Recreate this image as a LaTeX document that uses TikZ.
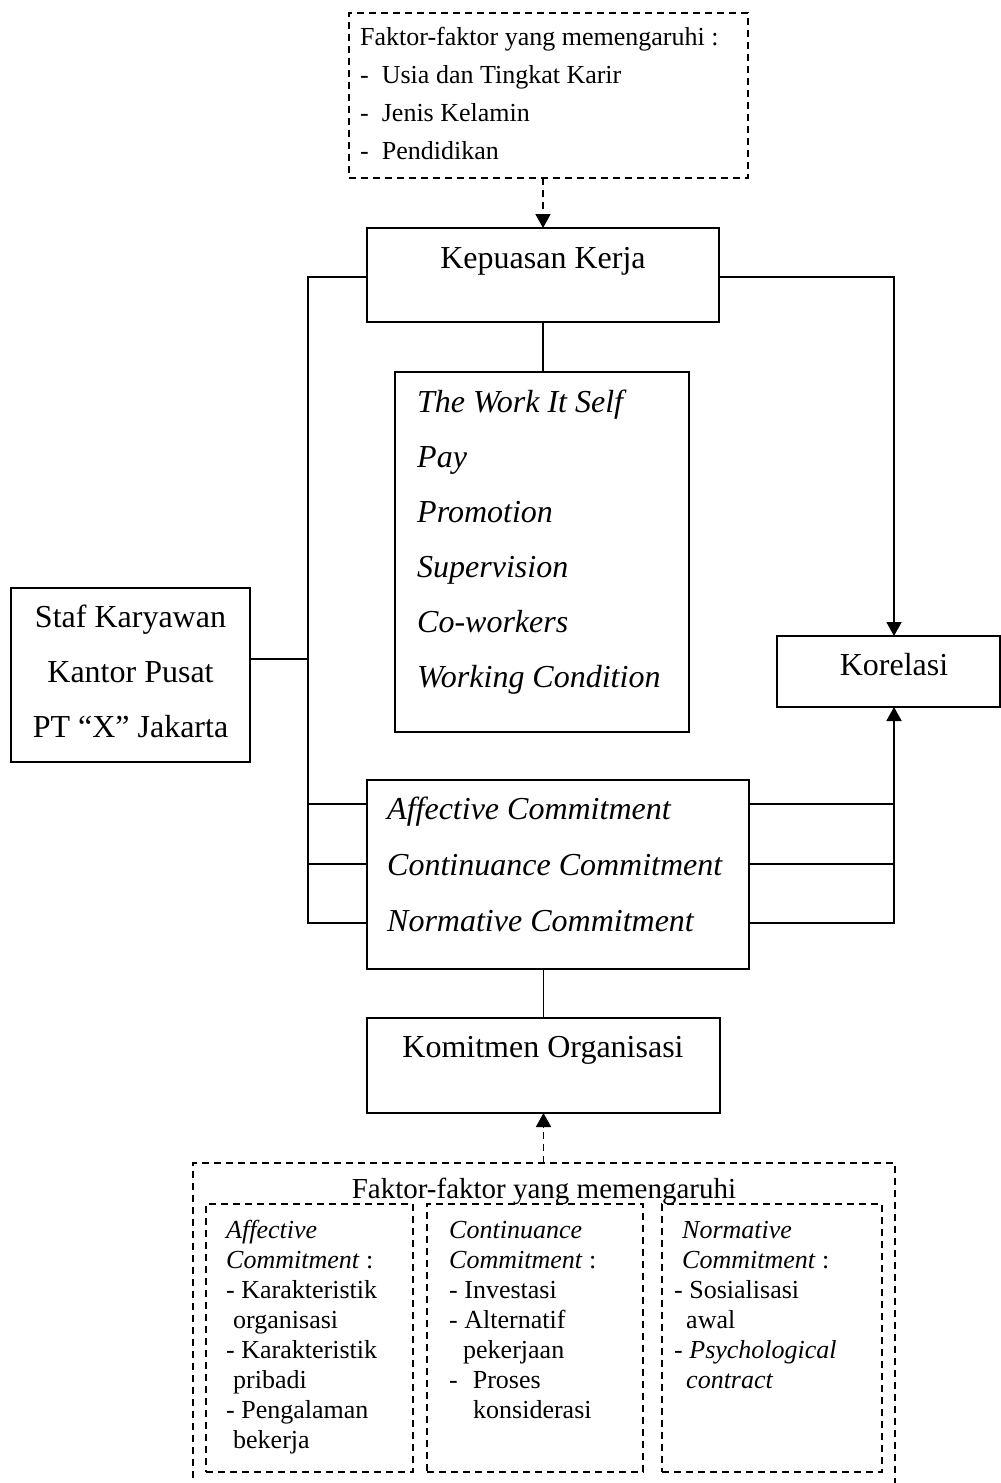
\documentclass[tikz,border=0pt]{standalone}
\usepackage{fontspec}
\setmainfont{Liberation Serif}
\usetikzlibrary{arrows.meta}
\begin{document}
\begin{tikzpicture}[x=1pt,y=-1pt,
  box/.style={draw, line width=1.9pt, rectangle, inner sep=0pt, outer sep=0pt, anchor=north west},
  dbox/.style={box, dash pattern=on 7pt off 5pt},
  big/.style={inner sep=0pt, font=\fontsize{32}{38}\selectfont},
  sm/.style={inner sep=0pt, anchor=base west, font=\fontsize{26}{30}\selectfont},
  conn/.style={line width=1.9pt},
  arr/.style={conn, -{Triangle[length=14pt,width=15pt]}},
  darr/.style={arr, dash pattern=on 7pt off 5pt},
]
\useasboundingbox (0,0) rectangle (1001,1483);

% boxes
\node[dbox, minimum width=399pt, minimum height=165pt] (tb) at (349,13) {};
\node[box, minimum width=352pt, minimum height=94pt] (kk) at (367,228) {};
\node[box, minimum width=294pt, minimum height=360pt] (wk) at (395,372) {};
\node[box, minimum width=239pt, minimum height=174pt] (st) at (11,588) {};
\node[box, minimum width=223pt, minimum height=71pt] (ko) at (777,636) {};
\node[box, minimum width=382pt, minimum height=189pt] (cm) at (367,780) {};
\node[box, minimum width=353pt, minimum height=95pt] (km) at (367,1018) {};
\node[dbox, minimum width=702pt, minimum height=340pt] (ob) at (193,1163) {};
\node[dbox, minimum width=207pt, minimum height=268pt] (i1) at (206,1204) {};
\node[dbox, minimum width=216pt, minimum height=268pt] (i2) at (427,1204) {};
\node[dbox, minimum width=220pt, minimum height=268pt] (i3) at (662,1204) {};

% texts
\node[sm] (t0) at (360,45.5) {Faktor-faktor yang memengaruhi :};
\foreach \t [count=\i] in {Usia dan Tingkat Karir,Jenis Kelamin,Pendidikan}
  \node[sm] (t\i) at (360,45.5+38*\i) {-\hspace{13pt}\t};

\node[big, anchor=base] (tkk) at (543,268) {Kepuasan Kerja};
\foreach \t [count=\i] in {The Work It Self,Pay,Promotion,Supervision,Co-workers,Working Condition}
  \node[big, anchor=base west] (w\i) at (417,357+55*\i) {\textit{\t}};
\foreach \t [count=\i] in {Staf Karyawan,Kantor Pusat,PT “X” Jakarta}
  \node[big, anchor=base] (s\i) at (130.5,572+55*\i) {\t};
\node[big, anchor=base] (tko) at (894,675) {Korelasi};
\foreach \t [count=\i] in {Affective,Continuance,Normative}
  \node[big, anchor=base west] (c\i) at (387,763+56*\i) {\textit{\t\ Commitment}};
\node[big, anchor=base] (tkm) at (543,1057) {Komitmen Organisasi};

\node[inner sep=0pt, anchor=base, font=\fontsize{29}{30}\selectfont] (oh) at (544,1198) {Faktor-faktor yang memengaruhi};

\foreach \dx/\t [count=\i] in {0/{\textit{Affective}},0/{\textit{Commitment} :},0/{- Karakteristik},7/{organisasi},0/{- Karakteristik},7/{pribadi},0/{- Pengalaman},7/{bekerja}}
  \node[sm] (a\i) at (226+\dx,1208+30*\i) {\t};
\foreach \dx/\t [count=\i] in {0/{\textit{Continuance}},0/{\textit{Commitment} :},0/{- Investasi},0/{- Alternatif},14/{pekerjaan},0/{-\hspace{15pt}Proses},24/{konsiderasi}}
  \node[sm] (b\i) at (449+\dx,1208+30*\i) {\t};
\foreach \dx/\t [count=\i] in {8/{\textit{Normative}},8/{\textit{Commitment} :},0/{- Sosialisasi},12/{awal},0/{- \textit{Psychological}},12/{\textit{contract}}}
  \node[sm] (n\i) at (674+\dx,1208+30*\i) {\t};

% connectors
\coordinate (lt) at (308,277);
\coordinate (lj) at (308,659);
\coordinate (la) at (308,804);
\coordinate (lc) at (308,864);
\coordinate (lb) at (308,923);
\coordinate (rt) at (894,277);
\coordinate (ra) at (894,804);
\coordinate (rc) at (894,864);
\coordinate (rb) at (894,923);

\draw[conn] (kk.west |- lt) -- (lt) -- (lb) -- (cm.west |- lb);
\draw[conn] (st.east |- lj) -- (lj);
\draw[conn] (la) -- (cm.west |- la);
\draw[conn] (lc) -- (cm.west |- lc);
\draw[arr] (kk.east |- rt) -- (rt) -- (ko.north -| rt);
\draw[arr] (cm.east |- rb) -- (rb) -- (ko.south -| rb);
\draw[conn] (cm.east |- ra) -- (ra);
\draw[conn] (cm.east |- rc) -- (rc);
\draw[conn] (kk.south) -- (wk.north -| kk.south);
\draw[conn] (km.north) -- (cm.south -| km.north);
\draw[darr] (tb.south -| kk.north) -- (kk.north);
\draw[darr] (ob.north -| km.south) -- (km.south);
\end{tikzpicture}
\end{document}
